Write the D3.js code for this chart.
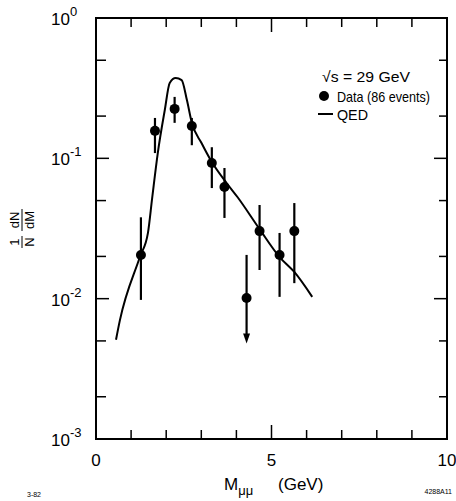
<!DOCTYPE html>
<html><head><meta charset="utf-8">
<script src="https://cdn.jsdelivr.net/npm/d3@7"></script>
<style>body{margin:0;background:#fff}svg{display:block}text{font-family:"Liberation Sans",Arial,sans-serif;fill:#000}</style>
</head><body>
<svg id="c" width="456" height="501"></svg>
<script>
// Data points
const massGeV   = [1.28, 1.68, 2.24, 2.73, 3.30, 3.66, 4.29, 4.66, 5.23, 5.65];
const dNdM      = [0.0205, 0.157, 0.225, 0.170, 0.0926, 0.0624, 0.0101, 0.0303, 0.0205, 0.0303];
const errHigh   = [0.038, 0.194, 0.274, 0.194, 0.120, 0.0853, 0.0205, 0.0465, 0.0294, 0.048];
const errLow    = [0.0098, 0.109, 0.179, 0.124, 0.0614, 0.0376, 0.0048, 0.016, 0.0103, 0.0129];
const isLimit   = [false, false, false, false, false, false, true, false, false, false];
// QED curve
const qedMass  = [0.57, 0.68, 1.25, 1.48, 1.60, 1.76, 1.96, 2.10, 2.27, 2.44, 2.59, 2.73, 3.01, 3.30, 3.72, 4.03, 4.66, 5.23, 5.65, 6.16];
const qedValue = [0.0051, 0.0070, 0.0198, 0.0294, 0.052, 0.109, 0.221, 0.344, 0.373, 0.361, 0.26, 0.179, 0.128, 0.094, 0.0667, 0.053, 0.0313, 0.0198, 0.0155, 0.0103];
// Ticks
const xTicks = [0,1,2,3,4,5,6,7,8,9,10];
const xTickLabels = ["0","5","10"];
const yDecades = [0, -1, -2, -3];
const yMinorTicks = [0.5,0.2,0.05,0.02,0.005,0.002];
// Legend
const legendTexts = ["\u221As = 29 GeV", "Data (86 events)", "QED"];

const svg = d3.select("#c");
const x = d3.scaleLinear().domain([0,10]).range([96,447]);
const y = d3.scaleLog().domain([1e-3,1]).range([439,18]);

// frame
svg.append("rect").attr("x",x(0)).attr("y",y(1)).attr("width",x(10)-x(0)).attr("height",y(1e-3)-y(1))
  .attr("fill","none").attr("stroke","#000").attr("stroke-width",2);

// x ticks
xTicks.forEach(v=>{
  const L = (v===5)?14:9;
  svg.append("line").attr("x1",x(v)).attr("x2",x(v)).attr("y1",y(1e-3)).attr("y2",y(1e-3)-L).attr("stroke","#000").attr("stroke-width",1.5);
  svg.append("line").attr("x1",x(v)).attr("x2",x(v)).attr("y1",y(1)).attr("y2",y(1)+L).attr("stroke","#000").attr("stroke-width",1.5);
});
xTickLabels.forEach(t=>{
  svg.append("text").attr("x",x(+t)).attr("y",y(1e-3)+27).attr("text-anchor","middle").attr("font-size",17).text(t);
});
// y ticks
yDecades.forEach(d=>{
  const v = Math.pow(10,d);
  svg.append("line").attr("x1",x(0)).attr("x2",x(0)+13).attr("y1",y(v)).attr("y2",y(v)).attr("stroke","#000").attr("stroke-width",1.5);
  svg.append("line").attr("x1",x(10)).attr("x2",x(10)-13).attr("y1",y(v)).attr("y2",y(v)).attr("stroke","#000").attr("stroke-width",1.5);
  const t = svg.append("text").attr("x",51).attr("y",y(v)+7).attr("font-size",17);
  t.append("tspan").text("10");
  t.append("tspan").attr("font-size",13).attr("dy",-9).text(d===0?"0":String(d));
});
yMinorTicks.forEach(v=>{
  svg.append("line").attr("x1",x(0)).attr("x2",x(0)+10).attr("y1",y(v)).attr("y2",y(v)).attr("stroke","#000").attr("stroke-width",1.5);
  svg.append("line").attr("x1",x(10)).attr("x2",x(10)-8).attr("y1",y(v)).attr("y2",y(v)).attr("stroke","#000").attr("stroke-width",1.5);
});

// QED curve
const qed = qedMass.map((m,i)=>[m,qedValue[i]]);
svg.append("path").datum(qed)
  .attr("d", d3.line().x(d=>x(d[0])).y(d=>y(d[1])).curve(d3.curveMonotoneX))
  .attr("fill","none").attr("stroke","#000").attr("stroke-width",2);

// data
const pts = massGeV.map((m,i)=>({m, v:dNdM[i], hi:errHigh[i], lo:errLow[i], lim:isLimit[i]}));
const g = svg.append("g");
g.selectAll("line.err").data(pts).join("line").attr("class","err")
  .attr("x1",d=>x(d.m)).attr("x2",d=>x(d.m)).attr("y1",d=>y(d.hi)).attr("y2",d=>d.lim? y(d.lo)-8 : y(d.lo))
  .attr("stroke","#000").attr("stroke-width",2.2);
g.selectAll("path.arr").data(pts.filter(d=>d.lim)).join("path").attr("class","arr")
  .attr("d",d=>`M${x(d.m)-3.5},${y(d.lo)-10}L${x(d.m)+3.5},${y(d.lo)-10}L${x(d.m)},${y(d.lo)}Z`).attr("fill","#000");
g.selectAll("circle").data(pts).join("circle")
  .attr("cx",d=>x(d.m)).attr("cy",d=>y(d.v)).attr("r",5).attr("fill","#000");

// legend
const lx = 337;
svg.append("text").attr("x",322).attr("y",82).attr("font-size",15)
  .attr("textLength",88).attr("lengthAdjust","spacingAndGlyphs").text(legendTexts[0]);
svg.append("circle").attr("cx",324).attr("cy",96).attr("r",5).attr("fill","#000");
svg.append("text").attr("x",lx).attr("y",102).attr("font-size",15)
  .attr("textLength",93).attr("lengthAdjust","spacingAndGlyphs").text(legendTexts[1]);
svg.append("line").attr("x1",318).attr("x2",333).attr("y1",114).attr("y2",114).attr("stroke","#000").attr("stroke-width",2);
svg.append("text").attr("x",lx).attr("y",120).attr("font-size",15)
  .attr("textLength",31).attr("lengthAdjust","spacingAndGlyphs").text(legendTexts[2]);

// axis titles
const xt = svg.append("text").attr("x",224).attr("y",490).attr("font-size",17);
xt.append("tspan").text("M");
xt.append("tspan").attr("font-size",13).attr("dy",5).text("\u03BC\u03BC");
xt.append("tspan").attr("x",278).attr("dy",-5).text("(GeV)");

const yt = svg.append("g").attr("transform","translate(22,247) rotate(-90)");
yt.append("text").attr("x",5).attr("y",-3).attr("text-anchor","middle").attr("font-size",13).text("1");
yt.append("line").attr("x1",-1).attr("x2",11).attr("y1",0).attr("y2",0).attr("stroke","#000").attr("stroke-width",1);
yt.append("text").attr("x",5).attr("y",12).attr("text-anchor","middle").attr("font-size",13).text("N");
yt.append("text").attr("x",27).attr("y",-3).attr("text-anchor","middle").attr("font-size",13).text("dN");
yt.append("line").attr("x1",16).attr("x2",38).attr("y1",0).attr("y2",0).attr("stroke","#000").attr("stroke-width",1);
yt.append("text").attr("x",27).attr("y",12).attr("text-anchor","middle").attr("font-size",13).text("dM");

// corner notes
svg.append("text").attr("x",27).attr("y",497).attr("font-size",7).text("3-82");
svg.append("text").attr("x",452).attr("y",494).attr("text-anchor","end").attr("font-size",7).text("4288A11");
</script>
</body></html>
